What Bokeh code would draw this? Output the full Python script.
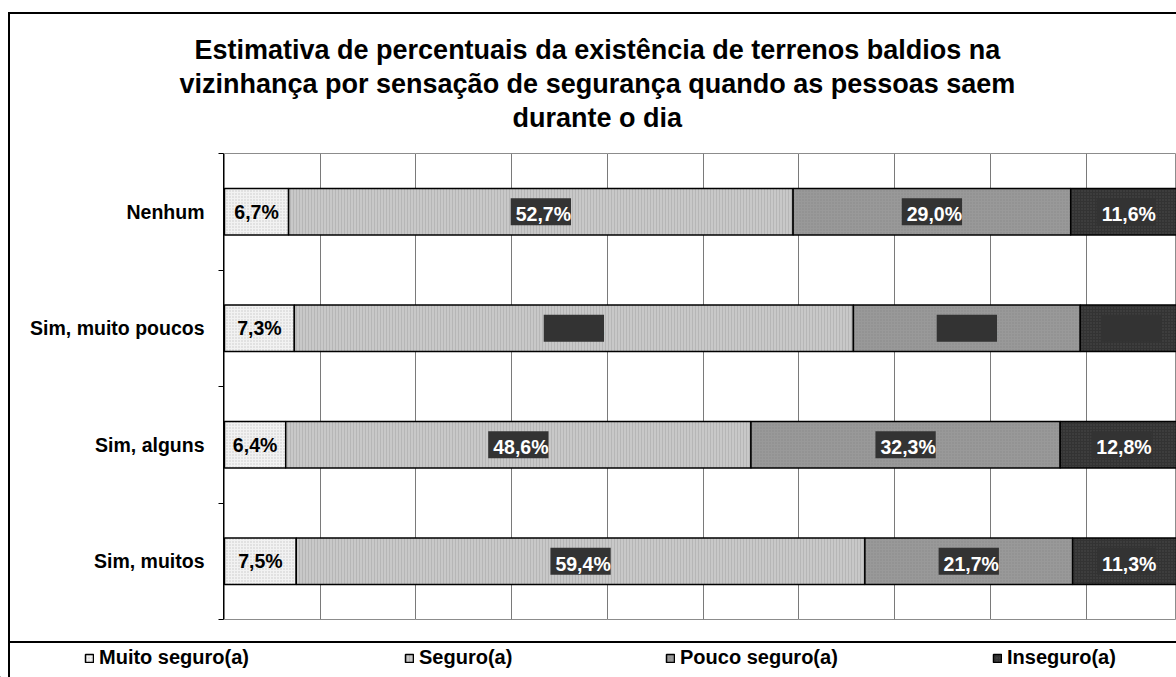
from bokeh.plotting import figure
from bokeh.models import (FactorRange, Range1d, ColumnDataSource, LinearAxis, CategoricalAxis,
                          FixedTicker, CustomJSTickFormatter, Grid, Legend, LegendItem, Title,
                          SingleIntervalTicker)
from bokeh.core.properties import value
from bokeh.embed import file_html
from bokeh.resources import INLINE

# ---------------- data ----------------
title_lines = [
    "Estimativa de percentuais da existência de terrenos baldios na",
    "vizinhança por sensação de segurança quando as pessoas saem",
    "durante o dia",
]
categories = ["Nenhum", "Sim, muito poucos", "Sim, alguns", "Sim, muitos"]
series = ["Muito seguro(a)", "Seguro(a)", "Pouco seguro(a)", "Inseguro(a)"]
muito_seguro = [6.7, 7.3, 6.4, 7.5]
seguro = [52.7, 58.4, 48.6, 59.4]
pouco_seguro = [29.0, 23.7, 32.3, 21.7]
inseguro = [11.6, 10.6, 12.8, 11.3]

# ---------------- styles ----------------
FONT = "Liberation Sans"
keys = ["muito_seguro", "seguro", "pouco_seguro", "inseguro"]
values_by_series = [muito_seguro, seguro, pouco_seguro, inseguro]
fills = ["#f2f2f2", "#c8c8c8", "#999999", "#333333"]
hatches = ["dot", "vertical_line", "dot", "dot"]
hatch_colors = ["#c8c8c8", "#b6b6b6", "#8a8a8a", "#4a4a4a"]
hidden_label_rows = {"Sim, muito poucos"}
bar_style = dict(line_color="black", line_width=1.5, hatch_scale=3, hatch_weight=1)

LINE = "linear-gradient(#000,#000)"

# ================= main chart =================
p = figure(width=1176, height=636,
           y_range=FactorRange(factors=categories[::-1]),
           x_range=Range1d(-0.1, 99.45),
           x_axis_location=None, y_axis_location=None,
           toolbar_location=None, output_backend="svg",
           min_border_left=223, min_border_right=0,
           min_border_top=153, min_border_bottom=17)
p.outline_line_color = "#8c8c8c"
p.outline_line_width = 1
p.background_fill_color = "white"
p.border_fill_color = None
# outer chart border (left + top), drawn as CSS backgrounds
p.styles = {
    "background-color": "white",
    "background-image": f"{LINE}, {LINE}",
    "background-size": "2px 100%, 100% 2px",
    "background-position": "8px 12px, 8px 12px",
    "background-repeat": "no-repeat",
}

# vertical grid lines
p.add_layout(Grid(dimension=0, ticker=SingleIntervalTicker(interval=10),
                  grid_line_color="#7a7a7a", grid_line_width=1))

# tick marks at the category boundaries (synthetic coordinates 0..n)
tick_axis = LinearAxis(ticker=FixedTicker(ticks=list(range(len(categories) + 1))),
                       formatter=CustomJSTickFormatter(code="return ''"),
                       major_tick_in=0, major_tick_out=5,
                       major_tick_line_color="black", minor_tick_line_color=None,
                       axis_line_color="black", axis_line_width=1,
                       major_label_standoff=0, major_label_text_font_size="0px")
cat_axis = CategoricalAxis(major_tick_line_color=None, axis_line_color=None,
                           major_tick_in=0, major_tick_out=0,
                           major_label_standoff=14,
                           major_label_text_font=FONT,
                           major_label_text_font_style="bold",
                           major_label_text_font_size="19.5px",
                           major_label_text_color="black")
p.add_layout(tick_axis, "left")
p.add_layout(cat_axis, "left")

# stacked bars
data = dict(categoria=categories)
for k, v in zip(keys, values_by_series):
    data[k] = v
source = ColumnDataSource(data)
p.hbar_stack(keys, y="categoria", height=0.4, source=source,
             fill_color=fills, hatch_pattern=hatches, hatch_color=hatch_colors, **bar_style)

# value labels
def fmt(v):
    return f"{v:.1f}".replace(".", ",") + "%"

starts = [0.0] * len(categories)
for i, vals in enumerate(values_by_series):
    centers = [s + v / 2 for s, v in zip(starts, vals)]
    labels = [fmt(v) for v in vals]
    if i == 0:
        colors = ["black" for _ in categories]
    else:
        colors = ["#333333" if c in hidden_label_rows else "white" for c in categories]
    src = ColumnDataSource(dict(x=centers, y=categories, label=labels, color=colors))
    if i == 0:
        p.text(x="x", y="y", text="label", source=src, text_color="color",
               text_font=value(FONT), text_font_style="bold", text_font_size="19.5px",
               text_align="center", text_baseline="middle")
    else:
        p.text(x="x", y="y", text="label", source=src, text_color="color",
               text_font=value(FONT), text_font_style="bold", text_font_size="19.5px",
               text_align="center", text_baseline="middle",
               background_fill_color="#333333", padding=(5, 0, 5, 0))
    starts = [s + v for s, v in zip(starts, vals)]

# title lines (closest to plot first), with a small spacer under them
p.add_layout(Title(text=" ", text_font_size="12px", standoff=4), "above")
title_offsets = [-29, -44, 289]
for text, off in reversed(list(zip(title_lines, title_offsets))):
    p.add_layout(Title(text=text, align="left", offset=off, text_font=FONT,
                       text_font_style="bold", text_font_size="27px",
                       text_color="black", standoff=2), "above")

# ================= legend strip (separate root, full-width frame) =================
lg = figure(width=1176, height=41, x_range=Range1d(1, 2), y_range=Range1d(1, 2),
            x_axis_location=None, y_axis_location=None,
            toolbar_location=None, output_backend="svg",
            min_border_left=0, min_border_right=0, min_border_top=0, min_border_bottom=0)
lg.outline_line_color = None
lg.background_fill_color = None
lg.border_fill_color = None
lg.grid.visible = False
lg.styles = {
    "background-color": "white",
    "background-image": f"{LINE}, {LINE}",
    "background-size": "2px 100%, 100% 2px",
    "background-position": "8px 0px, 8px 5px",
    "background-repeat": "no-repeat",
}
# zero-size swatch renderers (outside the visible range) that carry each series' style
swatch_src = ColumnDataSource(dict(y=[0], left=[0], right=[0]))
legend_x = [84, 404, 665, 992]
for j, name in enumerate(series):
    swatch = lg.hbar(y="y", left="left", right="right", height=0, source=swatch_src,
                     fill_color=fills[j], hatch_pattern=hatches[j],
                     hatch_color=hatch_colors[j], **bar_style)
    leg = Legend(items=[LegendItem(label=name, renderers=[swatch])],
                 location=(legend_x[j], 8), orientation="horizontal",
                 label_text_font=FONT, label_text_font_style="bold",
                 label_text_font_size="20px", label_text_color="black",
                 glyph_width=10, glyph_height=10, label_standoff=5,
                 padding=0, margin=0, spacing=0,
                 border_line_color=None, background_fill_alpha=0)
    lg.add_layout(leg, "center")

open("out.html", "w").write(file_html([p, lg], INLINE))
